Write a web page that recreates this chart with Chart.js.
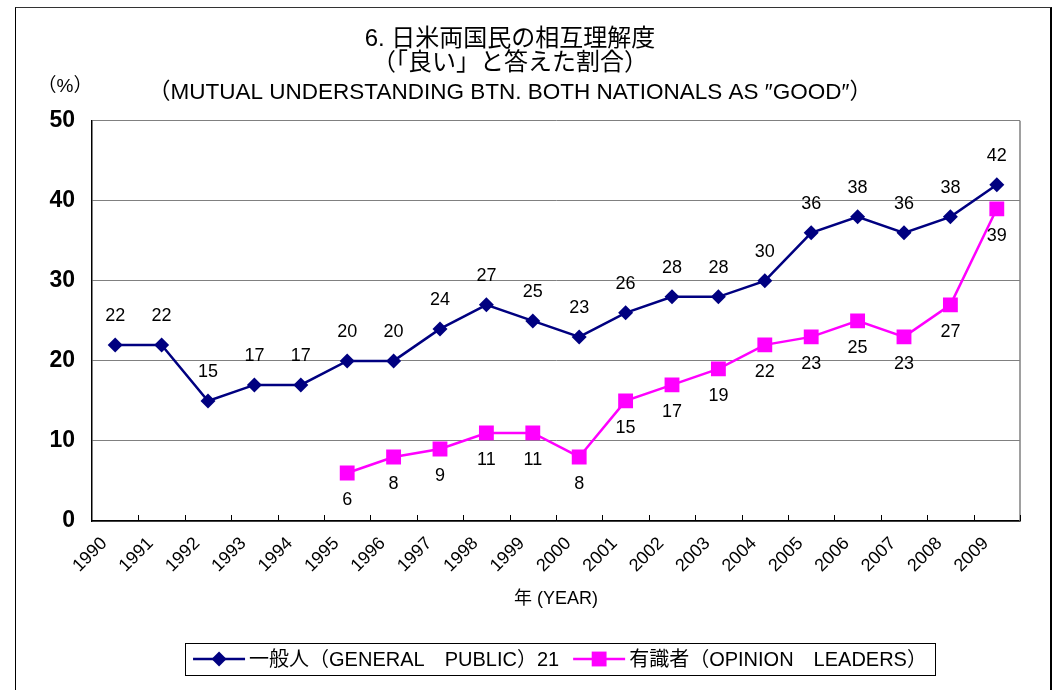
<!DOCTYPE html>
<html>
<head>
<meta charset="utf-8">
<script src="https://cdn.jsdelivr.net/npm/chart.js@4.4.1/dist/chart.umd.min.js"></script>
<style>
  body { margin: 0; background: #fff; overflow: hidden; }
  #wrap { position: relative; width: 1059px; height: 690px; }
  #frame { position: absolute; left: 15px; top: 7px; width: 1034px; height: 720px;
           border-left: 1px solid #000; border-top: 1px solid #333; border-right: 2px solid #000; pointer-events: none; }
</style>
</head>
<body>
<div id="wrap">
  <canvas id="chart-1" width="1059" height="690"></canvas>
  <div id="frame"></div>
</div>
<script>
const years = ['1990','1991','1992','1993','1994','1995','1996','1997','1998','1999',
               '2000','2001','2002','2003','2004','2005','2006','2007','2008','2009'];
const generalPublic = [22, 22, 15, 17, 17, 20, 20, 24, 27, 25, 23, 26, 28, 28, 30, 36, 38, 36, 38, 42];
const opinionLeaders = [null, null, null, null, null, 6, 8, 9, 11, 11, 8, 15, 17, 19, 22, 23, 25, 23, 27, 39];
const yTicks = [0, 10, 20, 30, 40, 50];

const titleLines = ['6. 日米両国民の相互理解度', '（「良い」と答えた割合）'];
const subTitle = '（MUTUAL UNDERSTANDING BTN. BOTH NATIONALS AS ″GOOD″）';
const fontFam = '"Liberation Sans", "Noto Sans CJK JP", sans-serif';

// value labels, inner x ticks, right border, (%) and the boxed legend
const extras = {
  id: 'extras',
  beforeDatasetsDraw(chart) {
    const ctx = chart.ctx;
    const area = chart.chartArea;
    const xs = chart.scales.x;
    const half = (xs.getPixelForValue(1) - xs.getPixelForValue(0)) / 2;
    ctx.save();
    ctx.strokeStyle = '#808080';
    ctx.lineWidth = 1.5;
    ctx.beginPath();
    ctx.moveTo(area.right, area.top);
    ctx.lineTo(area.right, area.bottom);
    ctx.stroke();
    ctx.strokeStyle = '#000';
    ctx.lineWidth = 1;
    for (let i = 1; i <= years.length; i++) {
      const x = Math.round(xs.getPixelForValue(i - 1) + half) + 0.5;
      ctx.beginPath();
      ctx.moveTo(x, area.bottom);
      ctx.lineTo(x, area.bottom - 6);
      ctx.stroke();
    }
    ctx.restore();
  },
  afterDatasetsDraw(chart) {
    const ctx = chart.ctx;
    ctx.save();
    ctx.font = '18px ' + fontFam;
    ctx.fillStyle = '#000';
    ctx.textAlign = 'center';
    ctx.textBaseline = 'middle';
    chart.data.datasets.forEach((ds, di) => {
      const meta = chart.getDatasetMeta(di);
      meta.data.forEach((pt, i) => {
        const v = ds.data[i];
        if (v === null) return;
        const dy = ds.labelPos === 'above' ? -29 : 27;
        ctx.fillText(String(v), pt.x, pt.y + dy);
      });
    });

    const area = chart.chartArea;
    // (%)
    ctx.font = '19px ' + fontFam;
    ctx.fillText('（%）', area.left - 27, area.top - 34);

    // legend
    ctx.font = '20px ' + fontFam;
    ctx.textAlign = 'left';
    const lineW = 52, gap = 4, between = 14;
    const items = chart.data.datasets.map(ds => ({ ds, w: lineW + gap + ctx.measureText(ds.label).width }));
    const total = items.reduce((s, it) => s + it.w, 0) + between;
    const boxL = (area.left + area.right) / 2 - total / 2 - 8 + 4;
    const boxW = total + 16;
    const boxT = chart.height - 47, boxH = 32;
    ctx.strokeStyle = '#000';
    ctx.lineWidth = 1;
    ctx.strokeRect(Math.round(boxL) + 0.5, boxT + 0.5, Math.round(boxW), boxH);
    let x = boxL + 8;
    const cy = boxT + boxH / 2;
    items.forEach(it => {
      const ds = it.ds;
      ctx.strokeStyle = ds.borderColor;
      ctx.lineWidth = ds.borderWidth;
      ctx.beginPath();
      ctx.moveTo(x, cy);
      ctx.lineTo(x + lineW, cy);
      ctx.stroke();
      ctx.fillStyle = ds.backgroundColor;
      Chart.helpers.drawPoint(ctx, { pointStyle: ds.pointStyle, radius: ds.pointRadius, borderWidth: 0 }, x + lineW / 2, cy);
      ctx.fillStyle = '#000';
      ctx.fillText(ds.label, x + lineW + gap, cy + 1);
      x += it.w + between;
    });
    ctx.restore();
  }
};

const ctx = document.getElementById('chart-1').getContext('2d');
new Chart(ctx, {
  type: 'line',
  data: {
    labels: years,
    datasets: [{
      label: '一般人（GENERAL　PUBLIC）21',
      data: generalPublic,
      borderColor: '#000080',
      backgroundColor: '#000080',
      borderWidth: 2.5,
      pointStyle: 'rectRot',
      pointRadius: 7.5,
      pointHoverRadius: 7.5,
      pointBorderWidth: 0,
      tension: 0,
      labelPos: 'above'
    }, {
      label: '有識者（OPINION　LEADERS）',
      data: opinionLeaders,
      borderColor: '#FF00FF',
      backgroundColor: '#FF00FF',
      borderWidth: 2.5,
      pointStyle: 'rect',
      pointRadius: 10.5,
      pointHoverRadius: 10.5,
      pointBorderWidth: 0,
      tension: 0,
      labelPos: 'below'
    }]
  },
  options: {
    responsive: false,
    animation: false,
    events: [],
    layout: { padding: { left: 0, right: 39, top: 0, bottom: 80 } },
    plugins: {
      legend: { display: false },
      tooltip: { enabled: false },
      title: {
        display: true,
        text: titleLines,
        color: '#000',
        font: { family: fontFam, size: 24, weight: 'normal', lineHeight: 1.0 },
        padding: { top: 27, bottom: 5 }
      },
      subtitle: {
        display: true,
        text: subTitle,
        color: '#000',
        font: { family: fontFam, size: 22.5, weight: 'normal', lineHeight: 1.1 },
        padding: { top: 0, bottom: 16 }
      }
    },
    scales: {
      x: {
        type: 'category',
        offset: true,
        grid: { display: false, drawTicks: false },
        border: { display: true, color: '#000', width: 1.5 },
        ticks: {
          autoSkip: false,
          minRotation: 45,
          maxRotation: 45,
          color: '#000',
          padding: 12,
          labelOffset: -11,
          font: { family: fontFam, size: 18 }
        },
        title: {
          display: true,
          text: '年 (YEAR)',
          color: '#000',
          font: { family: fontFam, size: 18 },
          padding: { top: 0, bottom: 0 }
        },
        afterFit(scale) { scale.height = 89; }
      },
      y: {
        min: 0,
        max: 50,
        afterBuildTicks(scale) { scale.ticks = yTicks.map(v => ({ value: v })); },
        grid: { color: '#808080', lineWidth: 1, drawTicks: false },
        border: { display: true, color: '#000', width: 1.5 },
        ticks: {
          color: '#000',
          padding: 17,
          font: { family: fontFam, size: 23, weight: 'bold' }
        },
        afterFit(scale) { scale.width = 92; }
      }
    }
  },
  plugins: [extras]
});
</script>
</body>
</html>
